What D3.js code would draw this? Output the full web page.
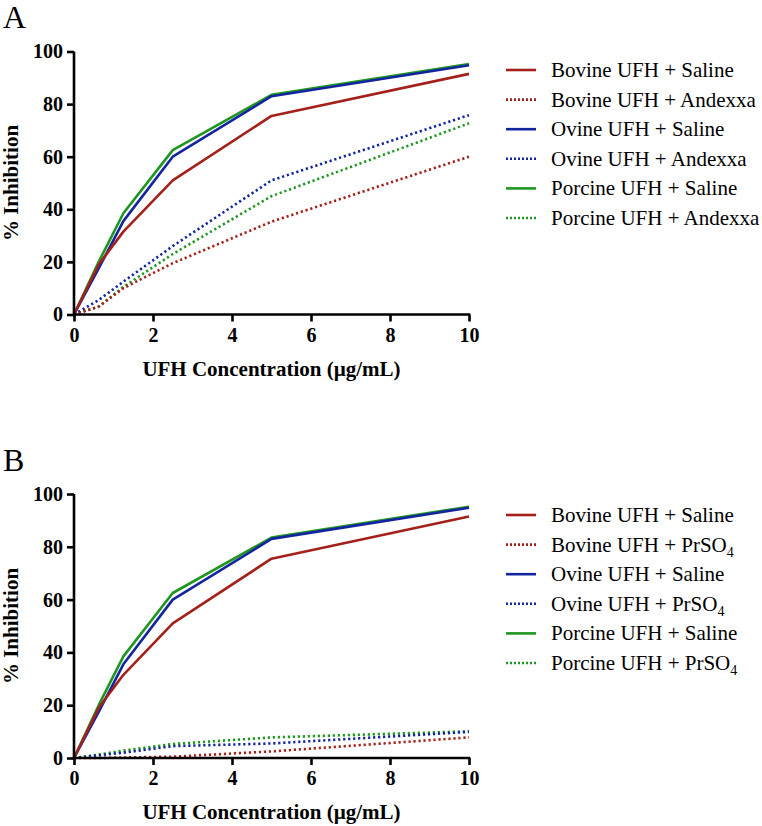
<!DOCTYPE html>
<html><head><meta charset="utf-8">
<script src="https://cdn.jsdelivr.net/npm/d3@7"></script>
<style>body{margin:0;background:#fff} svg text{font-family:"Liberation Serif","Times New Roman",Times,"DejaVu Serif",serif;}</style>
</head><body><svg id="c" width="762" height="826"></svg>
<script>
const concentrations = [0, 0.625, 1.25, 2.5, 5, 10];
const bovineSaline   = [0, 19, 31.5, 51, 75.5, 91.5];
const ovineSaline    = [0, 17.5, 35.5, 60, 83, 94.8];
const porcineSaline  = [0, 20, 38.5, 62.5, 83.5, 95.2];
const bovineAndexxa  = [0, 3, 10, 19.5, 35.3, 60];
const ovineAndexxa   = [0, 5.5, 12.5, 26, 51, 75.8];
const porcineAndexxa = [0, 3, 10.5, 23, 45, 72.7];
const bovinePrSO4    = [0, 0, 0.2, 0.5, 2.5, 7.8];
const ovinePrSO4     = [0, 1, 2, 4.5, 5.5, 9.9];
const porcinePrSO4   = [0, 1.3, 2.8, 5.3, 7.8, 10.1];
const xTicks = [0, 2, 4, 6, 8, 10];
const yTicks = [0, 20, 40, 60, 80, 100];
const xTitle = "UFH Concentration (\u00b5g/mL)";
const yTitle = "% Inhibition";

const RED = "#a3211a", BLUE = "#13259e", GREEN = "#1f961f";
const svg = d3.select("#c");

function panel(letter, top, y0, y100, series, legendTop) {
  const g = svg.append("g");
  const x = d3.scaleLinear().domain([0, 10]).range([74, 469]);
  const y = d3.scaleLinear().domain([0, 100]).range([y0, y100]);
  g.append("text").attr("x", 3).attr("y", top).attr("font-size", 32).text(letter);
  const line = d3.line().x((d, i) => x(concentrations[i])).y(d => y(d));
  const order = [5, 3, 1, 4, 2, 0];
  order.forEach(k => {
    const s = series[k];
    g.append("path").datum(s.values).attr("d", line).attr("fill", "none")
      .attr("stroke", s.color).attr("stroke-width", 2.6)
      .attr("stroke-dasharray", s.dotted ? "2.2,2.8" : null)
      .attr("stroke-linejoin", "round");
  });
  const ax = g.append("g").attr("transform", `translate(0,${y0})`)
    .call(d3.axisBottom(x).tickValues(xTicks).tickSize(7).tickSizeOuter(0).tickPadding(6));
  const ay = g.append("g").attr("transform", `translate(74,0)`)
    .call(d3.axisLeft(y).tickValues(yTicks).tickSize(7).tickSizeOuter(0).tickPadding(4));
  [ax, ay].forEach(a => {
    a.attr("font-family", null);
    a.select(".domain").attr("stroke", "#000").attr("stroke-width", 2.6);
    a.selectAll(".tick line").attr("stroke", "#000").attr("stroke-width", 2.6);
    a.selectAll(".tick text").attr("font-size", 20)
      .attr("font-weight", "bold").attr("fill", "#000");
  });
  ax.select(".domain").attr("d", `M${x(0) - 1.3},0H${x(10) + 1.3}`);
  ay.select(".domain").attr("d", `M0,${y0 + 1.3}V${y100}`);
  g.append("text").attr("x", (74 + 469) / 2).attr("y", y0 + 61)
    .attr("text-anchor", "middle").attr("font-size", 21)
    .attr("font-weight", "bold").text(xTitle);
  g.append("text").attr("transform", `translate(18,${(y0 + y100) / 2}) rotate(-90)`)
    .attr("text-anchor", "middle").attr("font-size", 21)
    .attr("font-weight", "bold").text(yTitle);
  series.forEach((s, i) => {
    const ly = legendTop + i * 29.6;
    g.append("line").attr("x1", 506).attr("x2", 536).attr("y1", ly).attr("y2", ly)
      .attr("stroke", s.color).attr("stroke-width", 2.6)
      .attr("stroke-dasharray", s.dotted ? "2,2" : null);
    const t = g.append("text").attr("x", 551).attr("y", ly + 7)
      .attr("font-size", 21).attr("fill", "#000");
    t.append("tspan").text(s.label);
    if (s.sub) t.append("tspan").attr("font-size", 14).attr("dy", 5).text(s.sub);
  });
}

panel("A", 28, 314.5, 51.5, [
  {label: "Bovine UFH + Saline", values: bovineSaline, color: RED, dotted: false},
  {label: "Bovine UFH + Andexxa", values: bovineAndexxa, color: RED, dotted: true},
  {label: "Ovine UFH + Saline", values: ovineSaline, color: BLUE, dotted: false},
  {label: "Ovine UFH + Andexxa", values: ovineAndexxa, color: BLUE, dotted: true},
  {label: "Porcine UFH + Saline", values: porcineSaline, color: GREEN, dotted: false},
  {label: "Porcine UFH + Andexxa", values: porcineAndexxa, color: GREEN, dotted: true}
], 70);

panel("B", 471, 758, 494, [
  {label: "Bovine UFH + Saline", values: bovineSaline, color: RED, dotted: false},
  {label: "Bovine UFH + PrSO", sub: "4", values: bovinePrSO4, color: RED, dotted: true},
  {label: "Ovine UFH + Saline", values: ovineSaline, color: BLUE, dotted: false},
  {label: "Ovine UFH + PrSO", sub: "4", values: ovinePrSO4, color: BLUE, dotted: true},
  {label: "Porcine UFH + Saline", values: porcineSaline, color: GREEN, dotted: false},
  {label: "Porcine UFH + PrSO", sub: "4", values: porcinePrSO4, color: GREEN, dotted: true}
], 515);
</script></body></html>
